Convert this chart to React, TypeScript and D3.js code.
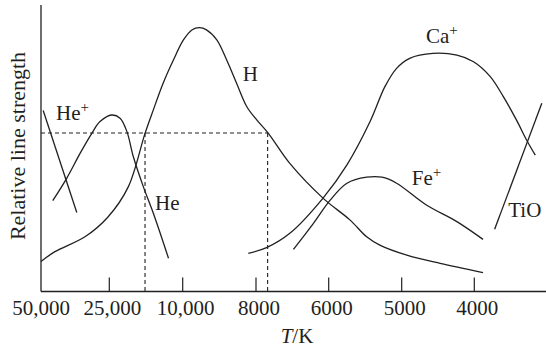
import React from "react";
import * as d3 from "d3";

// Temperature axis (K) – tick values and labels
const tempTicks = [50000, 25000, 10000, 8000, 6000, 5000, 4000];
const tickLabels = ["50,000", "25,000", "10,000", "8000", "6000", "5000", "4000"];

// Curves: [temperature K, relative line strength 0-100]
const heIIPoints: [number, number][] = [
  [49200, 63.2], [36900, 27.6],
];
const heIPoints: [number, number][] = [
  [45700, 31.7], [40600, 39.5], [35700, 48.2], [31400, 55.2], [28400, 59.3],
  [24500, 61.6], [22800, 60.5], [21400, 55.8], [20100, 47.1], [18050, 36.6],
  [16000, 27.3], [12900, 11.6],
];
const hPoints: [number, number][] = [
  [50000, 10.5], [44900, 13.9], [33900, 19.1], [25400, 26.1], [21100, 36.6],
  [17700, 55.2], [16000, 63.4], [14000, 72.7], [11900, 80.8], [9980, 87.8],
  [9750, 91.3], [9540, 92.1], [9350, 91.3], [9070, 87.8], [8800, 80.8],
  [8530, 72.7], [8250, 64.5], [7980, 59.9], [7660, 55.2], [7070, 44.7],
  [6150, 32.5], [5710, 25.0], [5480, 19.1], [5300, 16.2], [4930, 12.7],
  [4470, 9.8], [3880, 6.6],
];
const caIIPoints: [number, number][] = [
  [8210, 13.3], [7710, 15.3], [7070, 20.3], [6150, 32.7], [5750, 44.2],
  [5430, 59.5], [5230, 71.5], [5070, 77.9], [4890, 81.4], [4570, 83.1],
  [4240, 82.5], [4010, 80.2], [3780, 75.0], [3600, 68.0], [3420, 59.9],
  [3280, 52.9], [3160, 47.6],
];
const feIIPoints: [number, number][] = [
  [6970, 14.7], [6420, 23.8], [5980, 31.9], [5750, 37.8], [5480, 39.9],
  [5270, 39.9], [5070, 37.8], [4660, 30.2], [4240, 24.4], [3880, 18.2],
];
const tioPoints: [number, number][] = [
  [3720, 21.7], [3070, 65.7],
];

// Dashed reference: equal H strength at two temperatures
const refLevel = 55.3;
const refTemps = [17700, 7680];

const ink = "#231f20";
const font = "'Liberation Serif', 'Times New Roman', serif";

export default function App() {
  const x = d3.scaleLinear().domain(tempTicks).range([41, 109.3, 182.7, 256, 328.7, 401.7, 474.3]);
  const y = d3.scaleLinear().domain([0, 100]).range([291.5, 5]);
  const smooth = d3.line<[number, number]>().x((d) => x(d[0])).y((d) => y(d[1])).curve(d3.curveCatmullRom.alpha(0.5));
  const straight = d3.line<[number, number]>().x((d) => x(d[0])).y((d) => y(d[1]));

  const y0 = y(0);
  const curves = [
    straight(heIIPoints),
    smooth(heIPoints),
    smooth(hPoints),
    smooth(caIIPoints),
    smooth(feIIPoints),
    straight(tioPoints),
  ];

  const labelStyle = { fontFamily: font, fontSize: 21, fill: ink } as const;
  const sup = (t: string) => (
    <tspan fontSize={15} dy={-8}>{t}</tspan>
  );

  return (
    <svg width={546} height={347} style={{ position: "absolute", left: 0, top: 0, background: "#fff" }}>
      {/* axes */}
      <line x1={x(50000)} y1={y(100)} x2={x(50000)} y2={y0} stroke={ink} strokeWidth={1.3} />
      <line x1={x(50000)} y1={y0} x2={546} y2={y0} stroke={ink} strokeWidth={1.3} />
      {tempTicks.map((t, i) => (
        <g key={t}>
          {i > 0 && <line x1={x(t)} x2={x(t)} y1={y0} y2={y0 - 14} stroke={ink} strokeWidth={1.2} />}
          <text x={x(t) + (i > 0 ? 3 : 0)} y={315} textAnchor="middle" {...labelStyle}>{tickLabels[i]}</text>
        </g>
      ))}
      <text x={297} y={343} textAnchor="middle" {...labelStyle}>
        <tspan fontStyle="italic">T</tspan>/K
      </text>
      <text transform={`translate(25,146) rotate(-90)`} textAnchor="middle" {...labelStyle} fontSize={22}>
        Relative line strength
      </text>

      {/* dashed reference lines */}
      <line x1={x(50000)} x2={x(refTemps[1])} y1={y(refLevel)} y2={y(refLevel)} stroke={ink} strokeWidth={1.1} strokeDasharray="4,3" />
      {refTemps.map((t) => (
        <line key={t} x1={x(t)} x2={x(t)} y1={y(refLevel)} y2={y0} stroke={ink} strokeWidth={1.1} strokeDasharray="4,3" />
      ))}

      {/* curves */}
      {curves.map((d, i) => (
        <path key={i} d={d || ""} fill="none" stroke={ink} strokeWidth={1.3} />
      ))}

      {/* labels */}
      <text x={x(44510)} y={y(59.9)} {...labelStyle}>He{sup("+")}</text>
      <text x={x(15660)} y={y(28.6)} {...labelStyle}>He</text>
      <text x={x(8363)} y={y(73.4)} {...labelStyle}>H</text>
      <text x={x(4665)} y={y(86.6)} {...labelStyle}>Ca{sup("+")}</text>
      <text x={x(4862)} y={y(37.2)} {...labelStyle}>Fe{sup("+")}</text>
      <text x={x(3532)} y={y(26.1)} {...labelStyle}>TiO</text>
    </svg>
  );
}
